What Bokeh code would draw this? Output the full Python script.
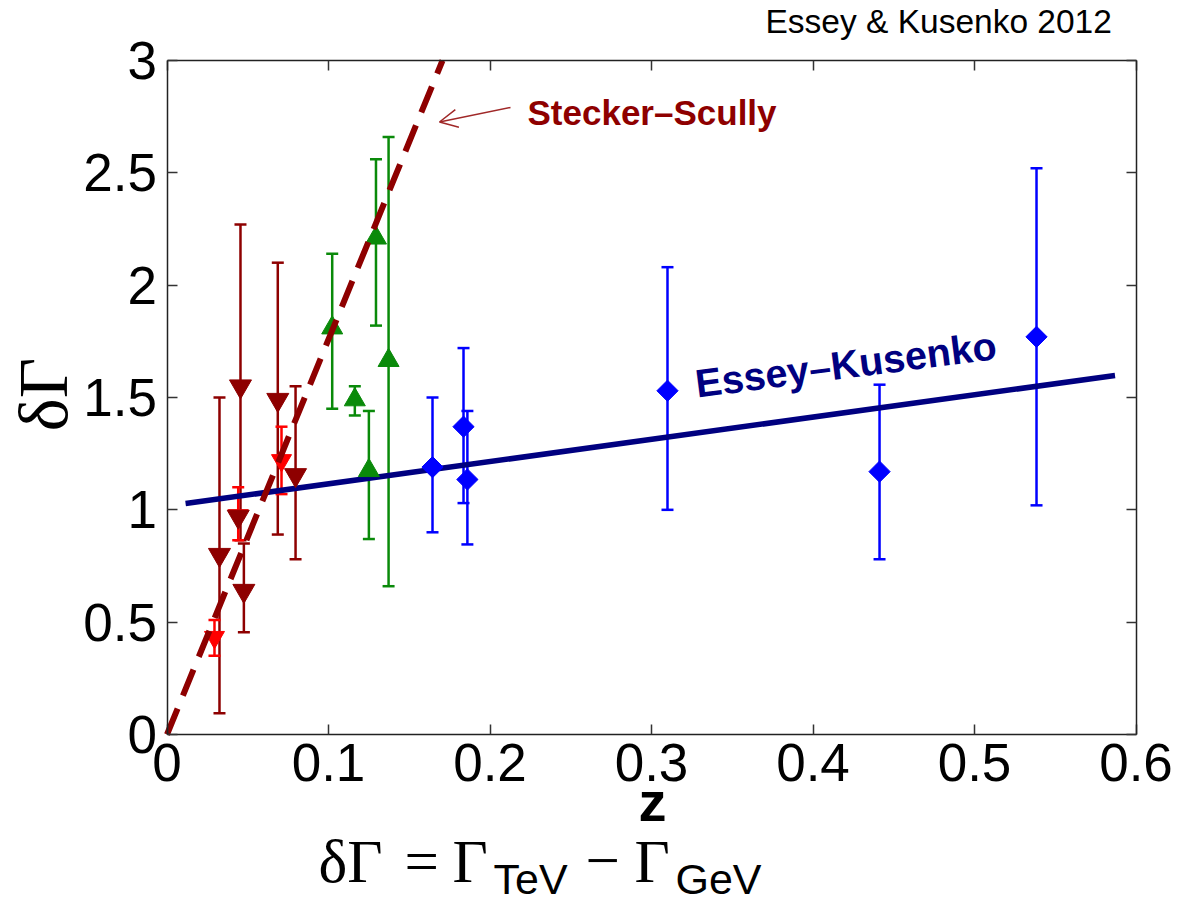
import math
from bokeh.plotting import figure
from bokeh.models import (Range1d, FixedTicker, PrintfTickFormatter, CustomJSTickFormatter,
                          LinearAxis, ColumnDataSource, Whisker, TeeHead, Label, Arrow, OpenHead)
from bokeh.embed import file_html
from bokeh.resources import INLINE

# ---------------- data ----------------
x_ticks = [0, 0.1, 0.2, 0.3, 0.4, 0.5, 0.6]
y_ticks = [0, 0.5, 1, 1.5, 2, 2.5, 3]

# dark red (downward triangles)
dr_z = [0.0325, 0.0455, 0.0441, 0.0476, 0.0686, 0.0796]
dr_v = [0.80, 1.55, 0.97, 0.64, 1.49, 1.155]
dr_lo = [0.095, 0.865, 0.97, 0.455, 0.89, 0.78]
dr_hi = [1.50, 2.27, 0.97, 0.85, 2.10, 1.55]

# bright red (downward triangles)
r_z = [0.0294, 0.0441, 0.0709]
r_v = [0.433, 0.975, 1.22]
r_lo = [0.35, 0.865, 1.07]
r_hi = [0.51, 1.10, 1.37]

# green (upward triangles)
g_z = [0.1023, 0.1163, 0.125, 0.1294, 0.1372]
g_v = [1.81, 1.49, 1.175, 2.21, 1.665]
g_lo = [1.45, 1.42, 0.87, 1.82, 0.66]
g_hi = [2.14, 1.55, 1.44, 2.56, 2.66]

# blue (diamonds)
b_z = [0.1644, 0.1836, 0.186, 0.3099, 0.4412, 0.5384]
b_v = [1.19, 1.37, 1.135, 1.53, 1.17, 1.77]
b_lo = [0.90, 1.03, 0.846, 1.00, 0.78, 1.02]
b_hi = [1.50, 1.72, 1.44, 2.08, 1.557, 2.52]

# model curves
ek_z = [0.0115, 0.587]
ek_v = [1.028, 1.598]
ss_z = [0.0, 0.1706]
ss_v = [0.0, 3.0]

# ---------------- layout helpers (pixel -> data) ----------------
W, H = 1192, 905
FL, FB, PX_X, PX_Y = 166.5, 734.0, 1615.0, 224.67
def sx(px):
    return (px - FL) / PX_X
def sy(py):
    return (FB - py) / PX_Y

DARKRED = "#8e0000"
RED = "#ff0000"
GREEN = "#0a8a0a"
BLUE = "#0000ff"
NAVY = "#000080"

p = figure(width=W, height=H, x_range=Range1d(sx(0), sx(W)), y_range=Range1d(sy(H), sy(0)),
           output_backend="svg", toolbar_location=None,
           x_axis_location=None, y_axis_location=None,
           min_border=0, min_border_left=0, min_border_right=0,
           min_border_top=0, min_border_bottom=0)
p.xgrid.visible = False
p.ygrid.visible = False
p.outline_line_color = None
p.background_fill_color = "white"
p.border_fill_color = "white"

def make_axis(ticks, loc, bounds, labels=True):
    ax = LinearAxis(ticker=FixedTicker(ticks=ticks), fixed_location=loc, bounds=bounds)
    ax.major_tick_in = 10
    ax.major_tick_out = 0
    ax.minor_tick_line_color = None
    ax.major_tick_line_width = 1.5
    ax.major_tick_line_color = "#333333"
    ax.axis_line_width = 1.5
    ax.axis_line_color = "#222222"
    ax.major_label_text_font = "Liberation Sans"
    ax.major_label_text_font_size = "53px"
    ax.major_label_text_color = "black"
    if labels:
        ax.formatter = PrintfTickFormatter(format="%g")
    else:
        ax.formatter = CustomJSTickFormatter(code="return ''")
    return ax

x_bot = make_axis(x_ticks, 0, (0, 0.6))
x_bot.major_label_standoff = 9
y_left = make_axis(y_ticks, 0, (0, 3))
y_left.major_label_standoff = 10
x_top = make_axis(x_ticks, 3, (0, 0.6), labels=False)
y_right = make_axis(y_ticks, 0.6, (0, 3), labels=False)
p.add_layout(x_bot, "below")
p.add_layout(y_left, "left")
p.add_layout(x_top, "above")
p.add_layout(y_right, "right")

# ---------------- error bars ----------------
def add_err(z, lo, hi, color):
    src = ColumnDataSource(dict(z=z, lo=lo, hi=hi))
    w = Whisker(base="z", lower="lo", upper="hi", source=src, dimension="height",
                line_color=color, line_width=2.5, level="underlay",
                upper_head=TeeHead(size=12, line_color=color, line_width=2.5),
                lower_head=TeeHead(size=12, line_color=color, line_width=2.5))
    p.add_layout(w)

add_err(dr_z, dr_lo, dr_hi, DARKRED)
add_err(r_z, r_lo, r_hi, RED)
add_err(g_z, g_lo, g_hi, GREEN)
add_err(b_z, b_lo, b_hi, BLUE)

# Essey-Kusenko line
p.line(ek_z, ek_v, line_color=NAVY, line_width=5.5)

# markers
p.scatter(r_z, r_v, marker="inverted_triangle", size=20, fill_color=RED, line_color=RED)
p.scatter(dr_z, dr_v, marker="inverted_triangle", size=22, fill_color=DARKRED, line_color=DARKRED)
p.scatter(g_z, g_v, marker="triangle", size=21, fill_color=GREEN, line_color=GREEN)
p.scatter(b_z, b_v, marker="square", angle=math.pi / 4, size=15, fill_color=BLUE, line_color=BLUE)

# Stecker-Scully dashed line
p.line(ss_z, ss_v, line_color=DARKRED, line_width=6, line_dash="28 14", line_cap="butt")

# arrow pointing to dashed line
p.add_layout(Arrow(x_start=sx(510), y_start=sy(107), x_end=sx(439), y_end=sy(121.5),
                   line_color="#a02828", line_width=1.5,
                   end=OpenHead(size=18, line_color="#a02828", line_width=1.5)))

# ---------------- texts ----------------
BASE_SHIFT = 0.38  # em; compensates where the label anchor sits relative to the baseline
def add_label(px, py, text, font, size, color="black", bold=False, angle=0.0,
              align="left", baseline="alphabetic"):
    if baseline == "alphabetic":
        d = BASE_SHIFT * size
        px = px - d * math.sin(angle)
        py = py - d * math.cos(angle)
    p.add_layout(Label(x=sx(px), y=sy(py), text=text, text_font=font,
                       text_font_style="bold" if bold else "normal",
                       text_font_size=f"{size}px", text_color=color, angle=angle,
                       text_align=align, text_baseline=baseline))

add_label(527, 125, "Stecker\u2013Scully", "Liberation Sans", 35, DARKRED, bold=True)
add_label(697, 398, "Essey\u2013Kusenko", "Liberation Sans", 39.5, NAVY, bold=True, angle=0.128)
add_label(765, 34, "Essey & Kusenko 2012", "Liberation Sans", 33.5)
# axis titles
add_label(652, 822, "z", "Liberation Sans", 56, bold=True, align="center")
add_label(43, 394, "\u03b4\u0393", "Liberation Serif", 70, angle=math.pi / 2,
          align="center", baseline="middle")
# formula below the axes: dGamma = Gamma_TeV - Gamma_GeV
add_label(318, 884, "\u03b4\u0393", "Liberation Serif", 61)
add_label(404, 884, "=", "Liberation Serif", 61)
add_label(452, 884, "\u0393", "Liberation Serif", 61)
add_label(493, 895, "TeV", "Liberation Sans", 43)
add_label(585, 884, "\u2212", "Liberation Serif", 61)
add_label(634, 884, "\u0393", "Liberation Serif", 61)
add_label(675, 895, "GeV", "Liberation Sans", 43)

open("out.html", "w").write(file_html(p, INLINE))
